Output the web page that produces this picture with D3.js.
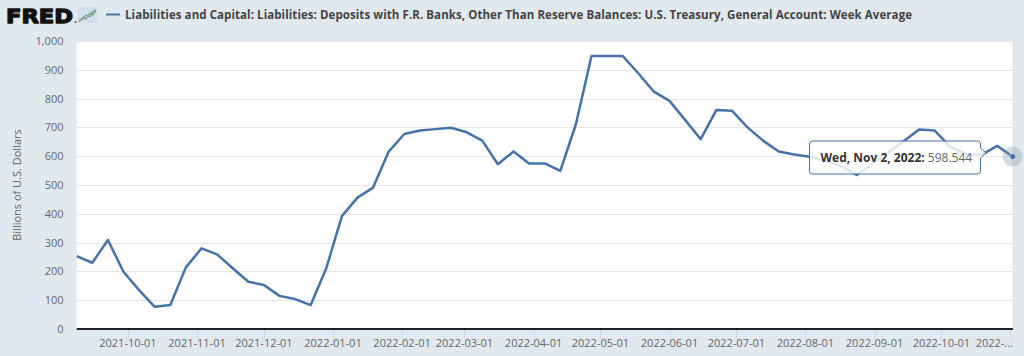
<!DOCTYPE html>
<html><head><meta charset="utf-8">
<script src="https://cdn.jsdelivr.net/npm/d3@7"></script>
<style>
html,body{margin:0;padding:0;background:#e1e9f0;}
svg{display:block;font-family:"Open Sans","Noto Sans",sans-serif;}
</style></head>
<body>
<svg id="chart" width="1024" height="356"></svg>
<script>
// ---- data ----
const startDate = "2021-09-08"; // first weekly observation (Wednesday)
const values = [
 253, 230, 309, 199, 135, 77, 83, 214, 280, 259,
 211, 164, 153, 115, 104, 83, 211, 392, 456, 491,
 616, 677, 689, 694, 699, 683, 654, 572, 616, 575,
 575, 549, 711, 948, 948, 948, 888, 824, 792, 726,
 659, 760, 758, 700, 654, 616, 606, 598, 585, 565,
 535, 573, 612, 652, 693, 689, 632, 608, 604, 636,
 598.544
];
const yTicks = [0,100,200,300,400,500,600,700,800,900,1000];
const xTickLabels = ["2021-10-01","2021-11-01","2021-12-01","2022-01-01","2022-02-01","2022-03-01","2022-04-01","2022-05-01","2022-06-01","2022-07-01","2022-08-01","2022-09-01","2022-10-01","2022-..."];
const xTickDates = ["2021-10-01","2021-11-01","2021-12-01","2022-01-01","2022-02-01","2022-03-01","2022-04-01","2022-05-01","2022-06-01","2022-07-01","2022-08-01","2022-09-01","2022-10-01","2022-11-01"];
const titleText = "Liabilities and Capital: Liabilities: Deposits with F.R. Banks, Other Than Reserve Balances: U.S. Treasury, General Account: Week Average";
const yLabel = "Billions of U.S. Dollars";
const tooltipDate = "Wed, Nov 2, 2022:";
const tooltipValue = "598.544";

// ---- build ----
const parse = d3.utcParse("%Y-%m-%d");
const t0 = parse(startDate);
const data = values.map((v,i)=>({date:d3.utcDay.offset(t0, i*7), value:v}));

const svg = d3.select("#chart");
const L = 76.7, R = 1012.7, T = 41, B = 329;
const x = d3.scaleUtc().domain(d3.extent(data,d=>d.date)).range([L,R]);
const y = d3.scaleLinear().domain([0,1000]).range([B,T]);

// plot background
svg.append("rect").attr("x",L).attr("y",T).attr("width",R-L+0.5).attr("height",B-T).attr("fill","#fff");

// gridlines
svg.append("g").selectAll("line").data(yTicks.filter(d=>d>0)).join("line")
  .attr("x1",L).attr("x2",R).attr("y1",d=>Math.round(y(d))+0.5).attr("y2",d=>Math.round(y(d))+0.5)
  .attr("stroke","#e6e6e6").attr("stroke-width",1);

// y tick labels
svg.append("g").selectAll("text").data(yTicks).join("text")
  .attr("x",63.5).attr("y",d=>y(d)+4).attr("text-anchor","end")
  .attr("font-size","11px").attr("fill","#666")
  .text(d=>d3.format(",")(d));

// y label
svg.append("text").attr("transform","translate(21,185) rotate(-90)")
  .attr("text-anchor","middle").attr("font-size","11px").attr("fill","#666").text(yLabel);

// x axis
const xd = xTickDates.map(parse);
svg.append("g").selectAll("line").data(xd).join("line")
  .attr("x1",d=>Math.round(x(d))+0.5).attr("x2",d=>Math.round(x(d))+0.5)
  .attr("y1",B).attr("y2",B+9).attr("stroke","#ccd6eb").attr("stroke-width",1);
svg.append("line").attr("x1",L).attr("x2",R+0.5).attr("y1",B).attr("y2",B)
  .attr("stroke","#222").attr("stroke-width",2);
svg.append("g").selectAll("text").data(xd).join("text")
  .attr("x",(d,i)=>i===xd.length-1 ? 1013 : x(d)).attr("y",347)
  .attr("text-anchor",(d,i)=>i===xd.length-1 ? "end" : "middle")
  .attr("font-size","11px").attr("fill","#666")
  .text((d,i)=>xTickLabels[i]);

// right border of plot
svg.append("line").attr("x1",R+0.5).attr("x2",R+0.5).attr("y1",T).attr("y2",B)
  .attr("stroke","#d6dde4").attr("stroke-width",1);

// series line
const line = d3.line().x(d=>x(d.date)).y(d=>y(d.value));
svg.append("path").datum(data).attr("d",line).attr("fill","none")
  .attr("stroke","#4572a7").attr("stroke-width",2.5).attr("stroke-linejoin","round");

// hover marker
const last = data[data.length-1];
svg.append("circle").attr("cx",x(last.date)).attr("cy",y(last.value)).attr("r",10)
  .attr("fill","#8a9aa8").attr("fill-opacity",0.35);
svg.append("circle").attr("cx",x(last.date)).attr("cy",y(last.value)).attr("r",3)
  .attr("fill","#4572a7").attr("stroke","#fff").attr("stroke-width",0.5);

// tooltip
const tx = 809.5, ty = 141, tw = 171, th = 33, r = 3;
const ay = 153, ax = 986;
const p = d3.path();
p.moveTo(tx+r,ty); p.lineTo(tx+tw-r,ty); p.quadraticCurveTo(tx+tw,ty,tx+tw,ty+r);
p.lineTo(tx+tw,ay-5); p.lineTo(ax,ay); p.lineTo(tx+tw,ay+5);
p.lineTo(tx+tw,ty+th-r); p.quadraticCurveTo(tx+tw,ty+th,tx+tw-r,ty+th);
p.lineTo(tx+r,ty+th); p.quadraticCurveTo(tx,ty+th,tx,ty+th-r);
p.lineTo(tx,ty+r); p.quadraticCurveTo(tx,ty,tx+r,ty); p.closePath();
svg.append("path").attr("d",p.toString()).attr("fill","#fff").attr("fill-opacity",0.82)
  .attr("stroke","#4572a7").attr("stroke-width",1);
const tt = svg.append("text").attr("x",tx+11).attr("y",ty+21).attr("font-size","12px");
tt.append("tspan").attr("font-weight","bold").attr("fill","#333").text(tooltipDate);
tt.append("tspan").attr("fill","#666").text(" "+tooltipValue);

// header: FRED logo
svg.append("text").attr("x",6).attr("y",23).attr("font-family","'DejaVu Sans',sans-serif")
  .attr("font-weight","bold").attr("font-size","20px").attr("fill","#111")
  .attr("stroke","#111").attr("stroke-width",1.3).attr("stroke-linejoin","round")
  .attr("textLength",67).attr("lengthAdjust","spacingAndGlyphs").text("FRED");
svg.append("circle").attr("cx",75.5).attr("cy",22).attr("r",1).attr("fill","#555");
const icon = svg.append("g");
icon.append("rect").attr("x",78).attr("y",7).attr("width",19).attr("height",16).attr("fill","#cfdbe6").attr("opacity",0.6);
icon.append("polyline").attr("points","79,22 83,17 86,19 90,13 93,15 96,9")
  .attr("fill","none").attr("stroke","#7aa84a").attr("stroke-width",1.2);
icon.append("polyline").attr("points","79,20 83,19 86,15 90,17 93,11 96,12")
  .attr("fill","none").attr("stroke","#6f95c0").attr("stroke-width",1.2);

// legend
svg.append("line").attr("x1",106).attr("x2",120).attr("y1",14.5).attr("y2",14.5)
  .attr("stroke","#4572a7").attr("stroke-width",2);
svg.append("text").attr("x",125).attr("y",18.5).attr("font-size","11.5px").attr("font-weight","bold")
  .attr("fill","#444").attr("textLength",787).attr("lengthAdjust","spacing").text(titleText);
</script>
</body></html>
